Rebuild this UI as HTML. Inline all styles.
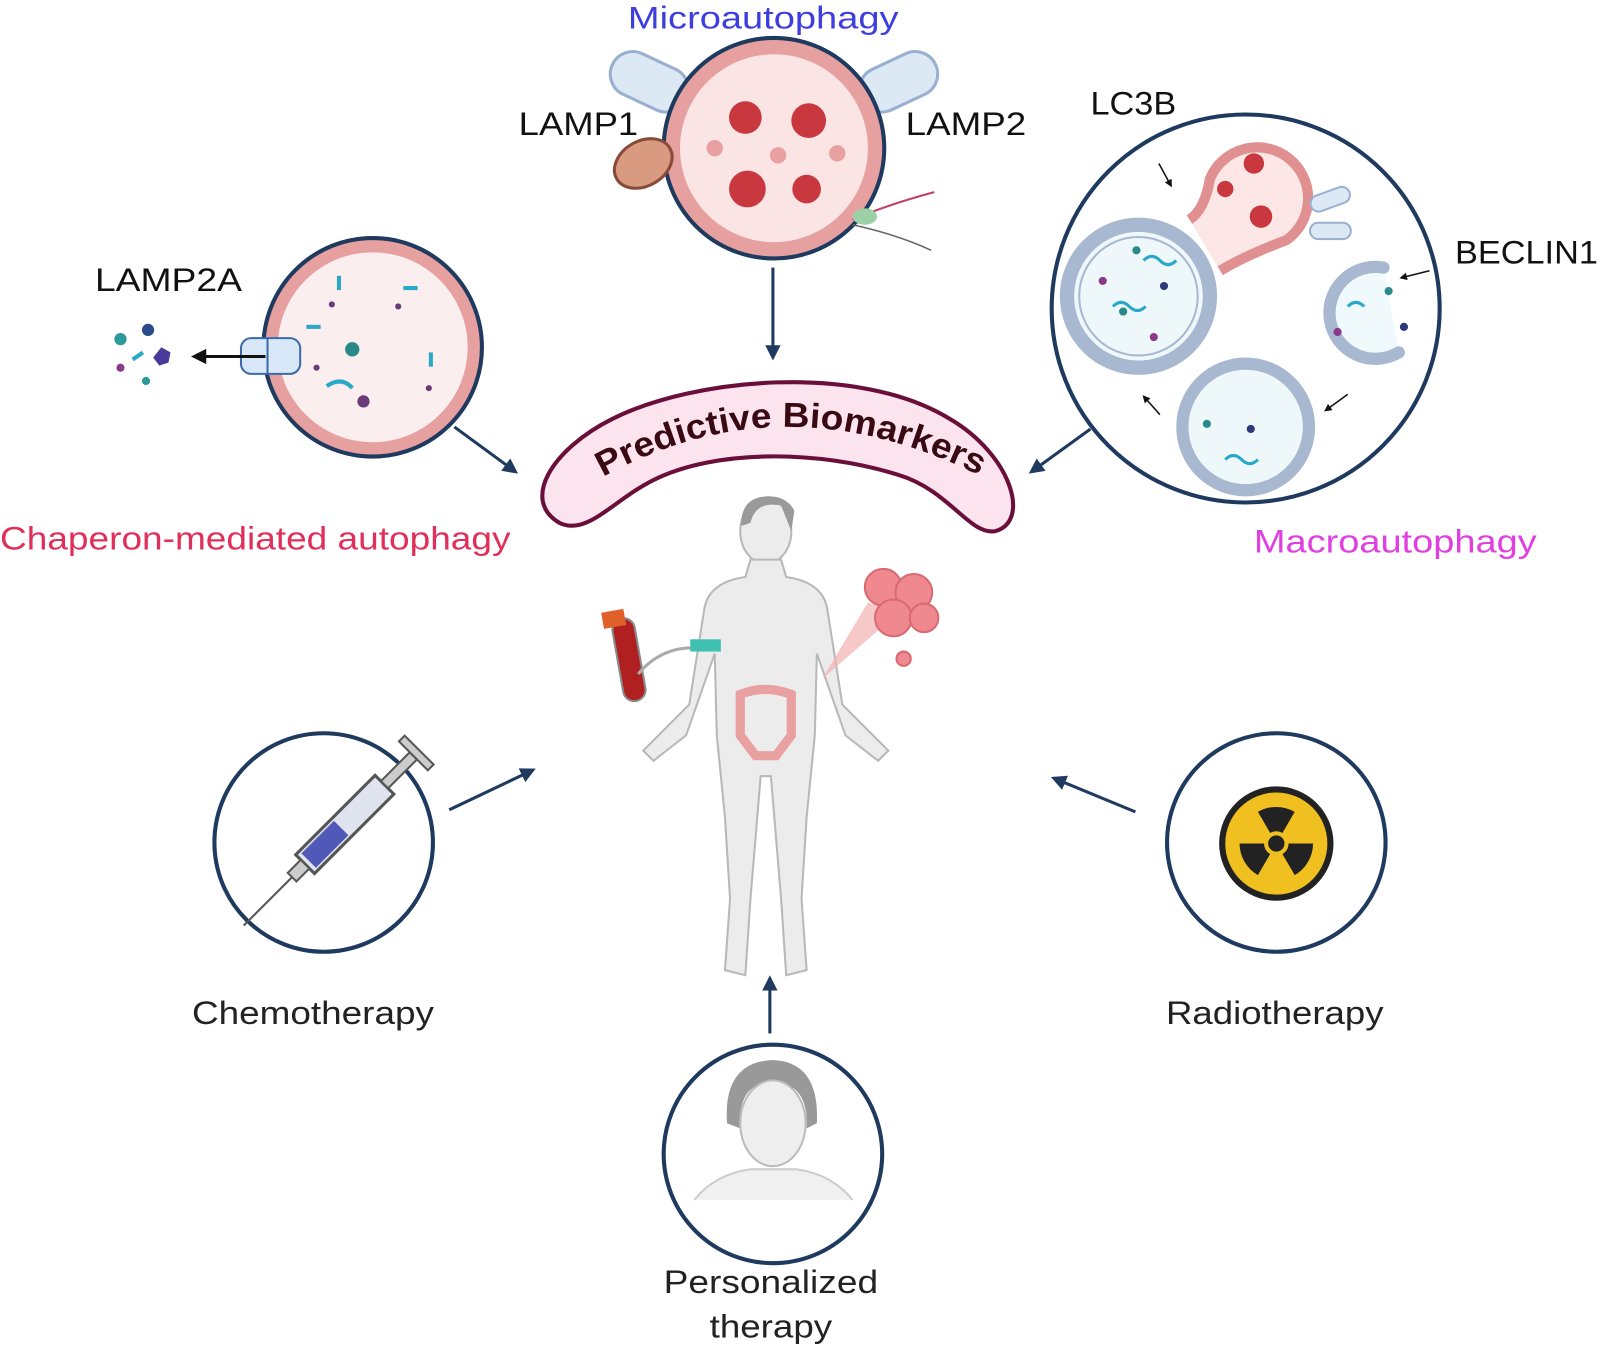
<!DOCTYPE html>
<html><head><meta charset="utf-8"><style>
html,body{margin:0;padding:0;background:#fff}
svg{display:block}
text{font-family:"Liberation Sans",sans-serif}
</style></head><body>
<svg width="1601" height="1346" viewBox="0 0 1568 1318" xmlns="http://www.w3.org/2000/svg">
<defs>
<marker id="ar" viewBox="0 0 10 10" refX="8" refY="5" markerWidth="5" markerHeight="5" orient="auto"><path d="M0,0 L10,5 L0,10 z" fill="#1e3a5f"/></marker>
<marker id="ak" viewBox="0 0 10 10" refX="8" refY="5" markerWidth="5" markerHeight="5" orient="auto"><path d="M0,0 L10,5 L0,10 z" fill="#111"/></marker>
<path id="tp" d="M582,472 Q765,365 968,470"/>
</defs>

<!-- titles -->
<text x="615" y="28" font-size="31" fill="#3e3ee0" textLength="265" lengthAdjust="spacingAndGlyphs">Microautophagy</text>
<text x="508" y="132" font-size="32" fill="#111" textLength="117" lengthAdjust="spacingAndGlyphs">LAMP1</text>
<text x="887" y="132" font-size="32" fill="#111" textLength="118" lengthAdjust="spacingAndGlyphs">LAMP2</text>
<text x="1068" y="112" font-size="32" fill="#111" textLength="84" lengthAdjust="spacingAndGlyphs">LC3B</text>
<text x="1425" y="258" font-size="32" fill="#111" textLength="140" lengthAdjust="spacingAndGlyphs">BECLIN1</text>
<text x="93" y="285" font-size="32" fill="#111" textLength="144" lengthAdjust="spacingAndGlyphs">LAMP2A</text>
<text x="0" y="538" font-size="32" fill="#e0305a" textLength="500" lengthAdjust="spacingAndGlyphs">Chaperon-mediated autophagy</text>
<text x="1228" y="541" font-size="32" fill="#e040e0" textLength="277" lengthAdjust="spacingAndGlyphs">Macroautophagy</text>

<!-- top lysosome -->
<rect x="596" y="58" width="80" height="44" rx="22" fill="#dde8f5" stroke="#9ab0d0" stroke-width="3" transform="rotate(25 636 80)"/>
<rect x="840" y="58" width="80" height="44" rx="22" fill="#dde8f5" stroke="#9ab0d0" stroke-width="3" transform="rotate(-25 880 80)"/>
<circle cx="758" cy="145" r="108" fill="#e6a0a0" stroke="#1e3a5f" stroke-width="4"/>
<circle cx="758" cy="145" r="92" fill="#fbe4e4"/>
<g fill="#c8383e"><circle cx="730" cy="115" r="16"/><circle cx="792" cy="118" r="17"/><circle cx="732" cy="185" r="18"/><circle cx="790" cy="185" r="14"/></g>
<g fill="#e8a0a0"><circle cx="700" cy="145" r="8"/><circle cx="762" cy="152" r="8"/><circle cx="820" cy="150" r="8"/></g>
<ellipse cx="630" cy="160" rx="30" ry="22" fill="#d89a80" stroke="#8a4a3a" stroke-width="3" transform="rotate(-30 630 160)"/>
<path d="M835,215 Q870,200 915,188" stroke="#c04060" stroke-width="2" fill="none"/>
<path d="M835,220 Q880,230 912,245" stroke="#666" stroke-width="1.5" fill="none"/>
<ellipse cx="847" cy="212" rx="12" ry="8" fill="#9ed0a8"/>

<!-- left circle -->
<circle cx="365" cy="340" r="107" fill="#e6a0a0" stroke="#1e3a5f" stroke-width="4"/>
<circle cx="365" cy="340" r="93" fill="#fbeeee"/>
<g fill="#2aa8c8"><rect x="330" y="270" width="4" height="14"/><rect x="395" y="280" width="14" height="4"/><rect x="300" y="318" width="14" height="4"/><rect x="420" y="345" width="4" height="14"/></g>
<g fill="#6a3a7a"><circle cx="325" cy="298" r="3"/><circle cx="390" cy="300" r="3"/><circle cx="310" cy="360" r="3"/><circle cx="420" cy="380" r="3"/><circle cx="356" cy="393" r="6"/></g>
<circle cx="345" cy="342" r="7" fill="#2a8a8a"/>
<path d="M320,378 Q335,368 345,380" stroke="#2aa8c8" stroke-width="4" fill="none"/>
<rect x="236" y="331" width="58" height="35" rx="10" fill="#d8e8f8" stroke="#3a6aaa" stroke-width="2"/>
<line x1="262" y1="331" x2="262" y2="366" stroke="#3a6aaa" stroke-width="2"/>
<line x1="260" y1="349" x2="190" y2="349" stroke="#111" stroke-width="3" marker-end="url(#ak)"/>
<g><circle cx="118" cy="332" r="6" fill="#2a9a9a"/><circle cx="145" cy="323" r="6" fill="#2a4a8a"/><polygon points="158,340 167,345 165,355 156,358 150,350" fill="#4a3a9a"/><circle cx="118" cy="360" r="4" fill="#8a3a8a"/><circle cx="143" cy="373" r="4" fill="#2a9a9a"/><line x1="130" y1="352" x2="140" y2="345" stroke="#2aa8c8" stroke-width="4"/></g>

<!-- right big circle -->
<circle cx="1220" cy="302" r="190" fill="#fff" stroke="#1e3a5f" stroke-width="4"/>
<path d="M1165,215 Q1180,205 1185,175 A50,50 0 1 1 1260,235 Q1220,250 1195,265" fill="#fce6e6" stroke="#e09090" stroke-width="10"/>
<circle cx="1115" cy="290" r="70" fill="#eef8fb" stroke="#a8b8d0" stroke-width="14"/>
<circle cx="1115" cy="290" r="58" fill="#eef8fb" stroke="#a8b8d0" stroke-width="2"/>
<circle cx="1220" cy="418" r="62" fill="#eef8fb" stroke="#a8b8d0" stroke-width="12"/>
<path d="M1355,262 A45,45 0 1 0 1370,345" fill="#f0f9fc" stroke="#a8b8d0" stroke-width="12" stroke-linecap="round"/>
<rect x="1283" y="188" width="40" height="16" rx="8" fill="#dde8f5" stroke="#9ab0d0" stroke-width="2" transform="rotate(-20 1300 196)"/>
<rect x="1283" y="218" width="40" height="16" rx="8" fill="#dde8f5" stroke="#9ab0d0" stroke-width="2"/>
<g fill="#c8383e"><circle cx="1228" cy="160" r="10"/><circle cx="1200" cy="185" r="8"/><circle cx="1235" cy="212" r="11"/></g>
<g fill="#2a8a8a"><circle cx="1113" cy="245" r="4"/><circle cx="1100" cy="305" r="4"/><circle cx="1182" cy="415" r="4"/><circle cx="1360" cy="285" r="4"/></g>
<g fill="#2a3a7a"><circle cx="1140" cy="280" r="4"/><circle cx="1225" cy="420" r="4"/><circle cx="1375" cy="320" r="4"/></g>
<g fill="#8a3a8a"><circle cx="1080" cy="275" r="4"/><circle cx="1130" cy="330" r="4"/><circle cx="1310" cy="325" r="4"/></g>
<g stroke="#2aa8c8" stroke-width="3" fill="none"><path d="M1090,300 q8,-8 16,0 t16,0"/><path d="M1120,255 q8,-8 16,0 t16,0"/><path d="M1200,450 q8,-8 16,0 t16,0"/><path d="M1320,300 q8,-8 16,0"/></g>
<line x1="1135" y1="160" x2="1147" y2="182" stroke="#111" stroke-width="1.5" marker-end="url(#ak)"/>
<line x1="1400" y1="265" x2="1372" y2="272" stroke="#111" stroke-width="1.5" marker-end="url(#ak)"/>
<line x1="1320" y1="386" x2="1298" y2="402" stroke="#111" stroke-width="1.5" marker-end="url(#ak)"/>
<line x1="1136" y1="406" x2="1120" y2="388" stroke="#111" stroke-width="1.5" marker-end="url(#ak)"/>

<!-- banner -->
<path d="M548,512 C510,490 540,440 600,410 C680,370 840,355 930,410 C990,445 1010,510 975,520 C950,525 930,480 880,465 C800,440 700,440 640,470 C600,490 575,525 548,512 Z" fill="#fce4ee" stroke="#6a0f3a" stroke-width="4"/>
<text font-size="34" font-weight="bold" fill="#3a0a14"><textPath href="#tp" startOffset="50%" text-anchor="middle" textLength="385" lengthAdjust="spacingAndGlyphs">Predictive   Biomarkers</textPath></text>

<!-- arrows to banner -->
<line x1="757" y1="262" x2="757" y2="350" stroke="#1e3a5f" stroke-width="3" marker-end="url(#ar)"/>
<line x1="445" y1="418" x2="505" y2="462" stroke="#1e3a5f" stroke-width="3" marker-end="url(#ar)"/>
<line x1="1068" y1="420" x2="1010" y2="462" stroke="#1e3a5f" stroke-width="3" marker-end="url(#ar)"/>

<!-- human -->
<g fill="#ececec" stroke="#b8b8b8" stroke-width="2">
<ellipse cx="750" cy="520" rx="25" ry="32"/>
<path d="M735,548 L765,548 L770,565 Q805,570 810,595 L825,690 L870,735 L860,745 L828,720 L800,640 L798,720 L790,800 L785,880 L790,950 L770,955 L765,880 L755,760 L745,760 L735,880 L730,955 L710,950 L715,880 L710,800 L702,720 L700,640 L672,720 L640,745 L630,735 L675,690 L690,595 Q695,570 730,565 Z"/>
</g>
<path d="M725,680 Q750,670 775,680 L775,720 L760,740 L740,740 L725,720 Z" fill="none" stroke="#e8a0a0" stroke-width="9"/>
<path d="M735,512 Q740,490 765,495 L775,520 L778,500 Q770,485 750,486 Q725,488 726,515 Z" fill="#9a9a9a"/>
<rect x="605" y="605" width="22" height="82" rx="11" fill="#b02020" stroke="#8a8a8a" stroke-width="2" transform="rotate(-10 616 646)"/>
<rect x="590" y="598" width="22" height="16" fill="#e0602a" transform="rotate(-10 601 606)"/>
<path d="M625,660 Q650,630 690,635" stroke="#aaa" stroke-width="3" fill="none"/>
<rect x="676" y="626" width="30" height="12" fill="#40c0b0"/>
<polygon points="805,665 850,590 880,600" fill="#f4b0b0" opacity="0.7"/>
<g fill="#f08890" stroke="#d86a72" stroke-width="2"><circle cx="865" cy="575" r="18"/><circle cx="895" cy="580" r="18"/><circle cx="875" cy="605" r="18"/><circle cx="905" cy="605" r="14"/><circle cx="885" cy="645" r="7"/></g>

<!-- therapy circles -->
<circle cx="317" cy="825" r="107" fill="#fff" stroke="#1e3a5f" stroke-width="4"/>
<g transform="rotate(-45 320 825)">
<rect x="290" y="812" width="110" height="26" fill="#dfe4ee" stroke="#555" stroke-width="3"/>
<rect x="295" y="815" width="45" height="20" fill="#5058b8"/>
<rect x="400" y="820" width="40" height="10" fill="#ccc" stroke="#555" stroke-width="2"/>
<rect x="440" y="805" width="8" height="40" fill="#ccc" stroke="#555" stroke-width="2"/>
<rect x="272" y="819" width="18" height="12" fill="#ccc" stroke="#555" stroke-width="2"/>
<line x1="272" y1="825" x2="205" y2="825" stroke="#555" stroke-width="2"/>
</g>
<circle cx="1250" cy="825" r="107" fill="#fff" stroke="#1e3a5f" stroke-width="4"/>
<circle cx="1250" cy="826" r="56" fill="#222"/>
<circle cx="1250" cy="826" r="50" fill="#f0c020"/>
<g fill="#222">
<path d="M1250,826 L1232,795 A36,36 0 0 1 1268,795 Z"/>
<path d="M1250,826 L1286,826 A36,36 0 0 1 1268,857 Z"/>
<path d="M1250,826 L1232,857 A36,36 0 0 1 1214,826 Z"/>
<circle cx="1250" cy="826" r="12" fill="#f0c020"/><circle cx="1250" cy="826" r="8"/>
</g>
<circle cx="757" cy="1130" r="107" fill="#fff" stroke="#1e3a5f" stroke-width="4"/>
<path d="M680,1175 Q700,1150 735,1145 L780,1145 Q815,1150 835,1175" fill="#f0f0f0" stroke="#ccc" stroke-width="2"/>
<path d="M712,1100 Q708,1040 757,1038 Q803,1040 800,1100 L790,1105 Q792,1060 757,1060 Q722,1060 725,1105 Z" fill="#999"/>
<ellipse cx="757" cy="1100" rx="32" ry="42" fill="#eee" stroke="#bbb" stroke-width="2"/>

<line x1="440" y1="793" x2="522" y2="754" stroke="#1e3a5f" stroke-width="3" marker-end="url(#ar)"/>
<line x1="1112" y1="795" x2="1032" y2="762" stroke="#1e3a5f" stroke-width="3" marker-end="url(#ar)"/>
<line x1="754" y1="1012" x2="754" y2="958" stroke="#1e3a5f" stroke-width="3" marker-end="url(#ar)"/>

<text x="188" y="1003" font-size="32" fill="#222" textLength="237" lengthAdjust="spacingAndGlyphs">Chemotherapy</text>
<text x="1142" y="1003" font-size="32" fill="#222" textLength="213" lengthAdjust="spacingAndGlyphs">Radiotherapy</text>
<text x="650" y="1266" font-size="32" fill="#222" textLength="210" lengthAdjust="spacingAndGlyphs">Personalized</text>
<text x="695" y="1310" font-size="32" fill="#222" textLength="120" lengthAdjust="spacingAndGlyphs">therapy</text>
</svg>
</body></html>
